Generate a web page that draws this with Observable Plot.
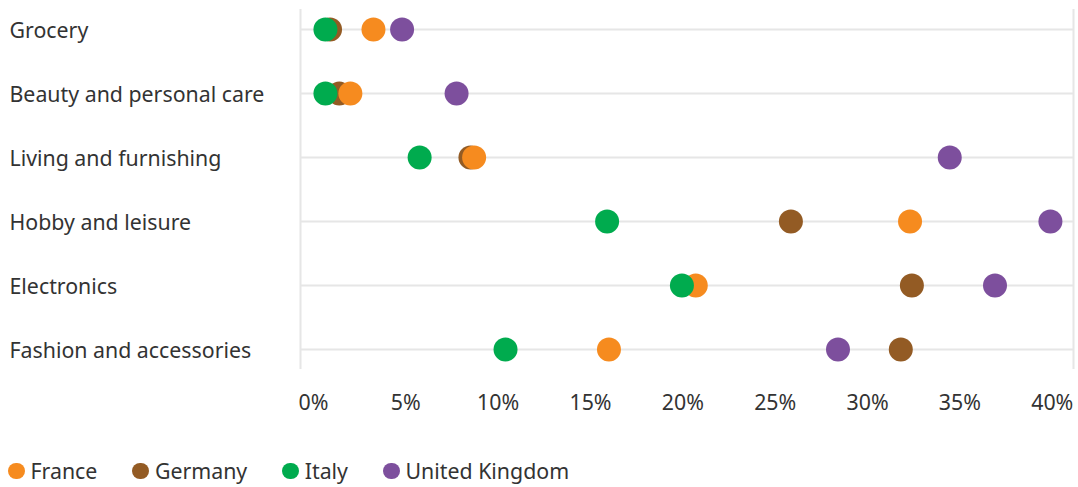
<!DOCTYPE html>
<html>
<head>
<meta charset="utf-8">
<script src="https://cdn.jsdelivr.net/npm/d3@7"></script>
<script src="https://cdn.jsdelivr.net/npm/@observablehq/plot@0.6"></script>
<style>
  body { margin: 0; background: #fff; font-family: "Noto Sans", sans-serif; }
  #chart svg { display: block; }
  .legend { display: flex; align-items: center; margin: 27px 0 0 8px; font-size: 21.33px; color: #333; line-height: 28px; }
  .legend .item { display: flex; align-items: center; margin-right: 35px; }
  .legend .dot { width: 16.5px; height: 16.5px; border-radius: 50%; margin-right: 6px; }
</style>
</head>
<body>
<div id="chart"></div>
<script>
// Product categories, top to bottom
const categories = [
  "Grocery",
  "Beauty and personal care",
  "Living and furnishing",
  "Hobby and leisure",
  "Electronics",
  "Fashion and accessories"
];

// Share of online purchases per category (%), one array per country
const countries = ["France", "Germany", "Italy", "United Kingdom"];
const france  = [3.25, 2.0, 8.7, 32.3, 20.7, 16.0];
const germany = [0.9, 1.4, 8.5, 25.85, 32.4, 31.8];
const italy   = [0.65, 0.65, 5.75, 15.9, 19.95, 10.4];
const uk      = [4.8, 7.75, 34.45, 39.9, 36.9, 28.4];

const colors = ["#f68b1f", "#935b24", "#00ab4e", "#7d4f9d"];
const xTicks = [0, 5, 10, 15, 20, 25, 30, 35, 40];
const xDomain = [-0.7, 41.15];

const seriesValues = { "France": france, "Germany": germany, "Italy": italy, "United Kingdom": uk };

// Drawing order: later series sit on top where dots overlap
const drawOrder = ["United Kingdom", "Germany", "France", "Italy"];
const rows = drawOrder.flatMap(country =>
  categories.map((category, i) => ({ country, category, value: seriesValues[country][i] }))
);

const fontSize = 21.33;

const chart = Plot.plot({
  width: 1078,
  height: 430,
  marginLeft: 300,
  marginRight: 5,
  marginTop: 9,
  marginBottom: 61,
  style: { fontFamily: "Noto Sans, sans-serif", fontSize: fontSize + "px", color: "#333" },
  x: { domain: xDomain, label: null },
  y: { type: "point", domain: categories, inset: 20, padding: 0, label: null },
  color: { domain: countries, range: colors },
  marks: [
    Plot.ruleY(categories, { stroke: "#e6e6e6", strokeWidth: 2 }),
    Plot.ruleX(xDomain, { stroke: "#e6e6e6", strokeWidth: 2 }),
    Plot.axisX({ ticks: xTicks, tickFormat: d => d + "%", tickSize: 0, tickPadding: 25, fill: "#333", fontSize }),
    Plot.axisY({ tickSize: 0, tickPadding: 291, textAnchor: "start", dy: 2, fill: "#333", fontSize }),
    Plot.dot(rows, { x: "value", y: "category", fill: "country", r: 12, stroke: null })
  ]
});

document.getElementById("chart").append(chart);

// Legend below the chart
const legend = document.createElement("div");
legend.className = "legend";
countries.forEach((c, i) => {
  const item = document.createElement("div");
  item.className = "item";
  const dot = document.createElement("span");
  dot.className = "dot";
  dot.style.background = colors[i];
  const label = document.createElement("span");
  label.textContent = c;
  item.append(dot, label);
  legend.append(item);
});
document.body.append(legend);
</script>
</body>
</html>
